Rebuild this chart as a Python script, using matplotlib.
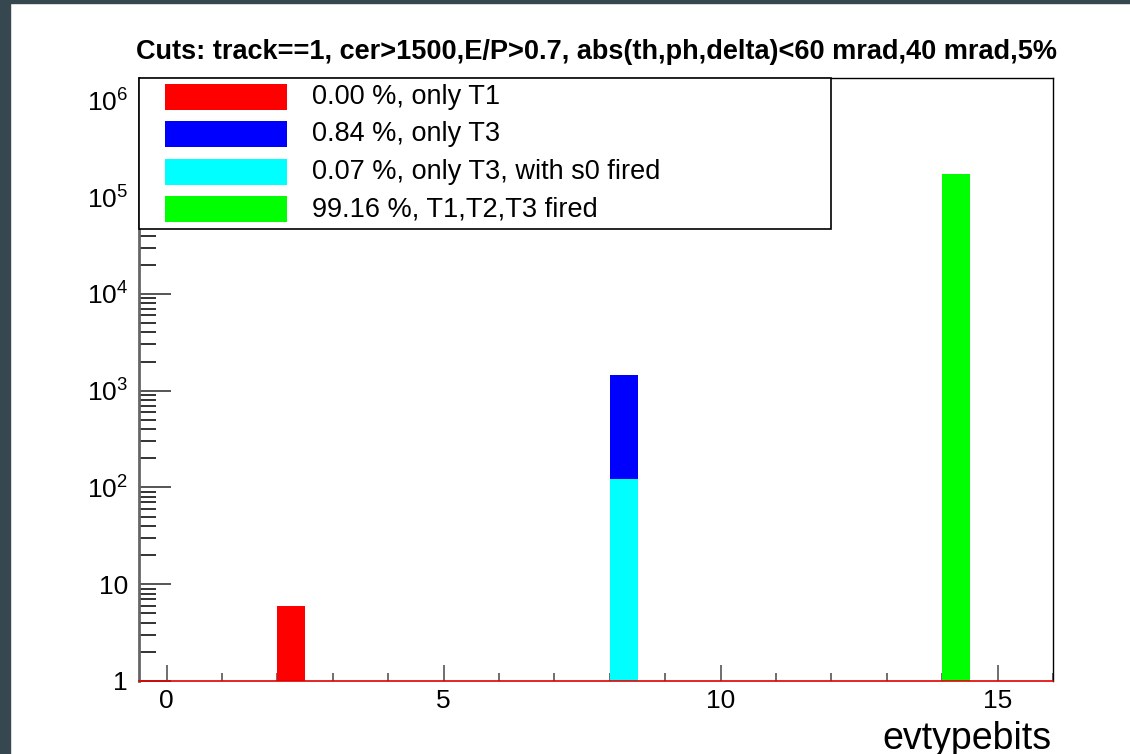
"""Event type bits histogram, ROOT style, log scale."""
import math

import matplotlib

matplotlib.use("Agg")
import matplotlib.pyplot as plt
from matplotlib.patches import Rectangle
from matplotlib.ticker import FixedLocator, FuncFormatter, LogLocator, MultipleLocator

plt.rcParams["font.family"] = ["Liberation Sans", "DejaVu Sans"]
plt.rcParams["mathtext.fontset"] = "custom"
plt.rcParams["mathtext.rm"] = "Liberation Sans"
plt.rcParams["mathtext.default"] = "regular"

# Histogram content (bin centres of width 0.5).
bin_centers = [2.25, 8.25, 8.25, 14.25]
counts = [6, 1460, 122, 172000]
colors = ["#ff0000", "#0000ff", "#00ffff", "#00ff00"]
labels = [
    "0.00 %, only T1",
    "0.84 %, only T3",
    "0.07 %, only T3, with s0 fired",
    "99.16 %, T1,T2,T3 fired",
]
x_major = [0, 5, 10, 15]
title = "Cuts: track==1, cer>1500,E/P>0.7, abs(th,ph,delta)<60 mrad,40 mrad,5%"

W, H = 1130, 754
fig = plt.figure(figsize=(W / 100, H / 100), dpi=100)

# Dark window frame on left and top.
frame_col = "#37474f"
fig.patches.append(Rectangle((0, 0), 10 / W, 1, transform=fig.transFigure,
                             color=frame_col, zorder=0))
fig.patches.append(Rectangle((0, 1 - 3 / H), 1, 3 / H, transform=fig.transFigure,
                             color=frame_col, zorder=0))

ax = fig.add_axes([139 / W, (H - 681) / H, (1053 - 139) / W, (681 - 78) / H])

ax.bar(bin_centers, counts, width=0.5, color=colors, linewidth=0, zorder=2)

ax.set_yscale("log")
ax.set_xlim(-0.5, 16)
ax.set_ylim(1, 1.7e6)


def _ylab(v, pos):
    # ROOT prints 1 and 10 plainly, higher decades as powers.
    if v < 1.5:
        return "1"
    if v < 15:
        return "10"
    n = int(round(math.log10(v)))
    return rf"$10^{{{n}}}$"


ax.yaxis.set_major_locator(LogLocator(base=10, numticks=10))
ax.yaxis.set_minor_locator(LogLocator(base=10, subs=range(2, 10), numticks=20))
ax.yaxis.set_major_formatter(FuncFormatter(_ylab))
ax.xaxis.set_major_locator(FixedLocator(x_major))
ax.xaxis.set_minor_locator(MultipleLocator(1))

ax.tick_params(axis="y", which="major", direction="in", length=23, width=1.4,
               color="#555555", labelsize=19, pad=8)
ax.tick_params(axis="y", which="minor", direction="in", length=12, width=1.4,
               color="#333333")
ax.tick_params(axis="x", which="major", direction="in", length=11.5, width=1.2,
               color="#555555", labelsize=19, pad=6)
ax.tick_params(axis="x", which="minor", direction="in", length=6, width=1.2,
               color="#555555")

ax.spines["left"].set_color("#666666")
ax.spines["left"].set_linewidth(2)
ax.spines["bottom"].set_color("#e00000")
ax.spines["bottom"].set_linewidth(1.2)
ax.spines["top"].set_linewidth(1)
ax.spines["right"].set_linewidth(1)

# Legend box drawn by hand (ROOT TLegend look).
ax.add_patch(Rectangle((0, 0.7496), 0.757, 0.2504, transform=ax.transAxes,
                       facecolor="white", edgecolor="black", linewidth=1.2,
                       zorder=5, clip_on=False))
row_top = 0.9685
row_step = 37.5 / 603
patch_h = 26 / 603
for i, (lab, col) in enumerate(zip(labels, colors)):
    yc = row_top - i * row_step
    ax.add_patch(Rectangle((0.0284, yc - patch_h / 2), 0.1335, patch_h,
                           transform=ax.transAxes, facecolor=col,
                           linewidth=0, zorder=6))
    ax.text(0.1893, yc, lab, transform=ax.transAxes, fontsize=19.5,
            va="center", ha="left", zorder=6)

fig.text(597 / W, 1 - 52 / H, title, ha="center", va="center",
         fontsize=19.5, fontweight="bold")
fig.text(1052 / W, 1 - 739 / H, "evtypebits", ha="right", va="center",
         fontsize=27)

fig.savefig("out.png", dpi=100)
